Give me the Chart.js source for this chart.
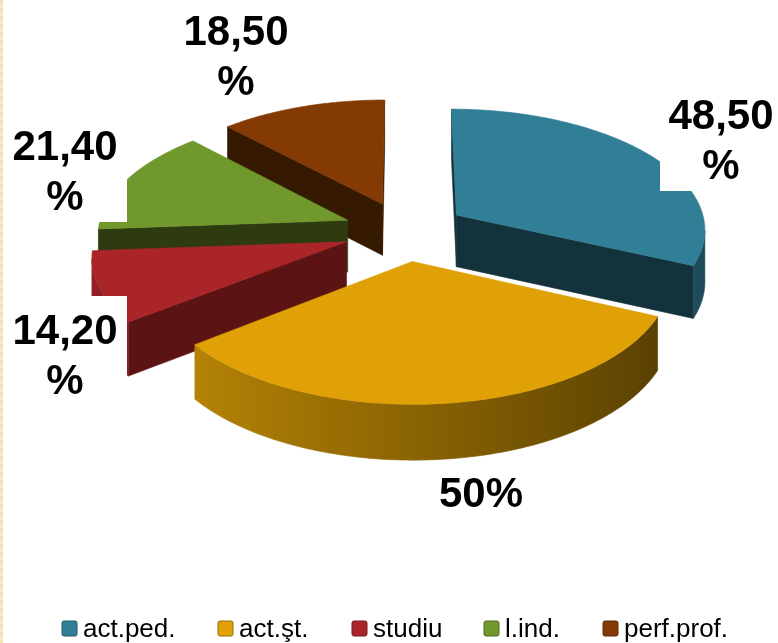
<!DOCTYPE html>
<html>
<head>
<meta charset="utf-8">
<script src="https://cdn.jsdelivr.net/npm/chart.js"></script>
<style>
    html, body { margin: 0; padding: 0; background: #fff; overflow: hidden; }
    #wrap { position: relative; width: 778px; height: 643px; }
    #edge { position: absolute; left: 0; top: 0; width: 3px; height: 643px; z-index: 2;
        background: repeating-linear-gradient(180deg, #f4e2b0 0, #f4e2b0 4px, #f8ebc8 4px, #f8ebc8 8px); }
</style>
</head>
<body>
<div id="wrap">
    <div id="edge"></div>
    <canvas id="myChart" width="778" height="643"></canvas>
</div>
<script>
var categories = ['act.ped.', 'act.\u015Ft.', 'studiu', 'l.ind.', 'perf.prof.'];
var values = [48.5, 50, 14.2, 21.4, 18.5];
var valueLabels = [['48,50', '%'], ['50%'], ['14,20', '%'], ['21,40', '%'], ['18,50', '%']];
var topColors = ['#317f96', '#dfa106', '#a92528', '#71982c', '#843a03'];
var sideColors = ['#14323b', '#5f4500', '#5c1314', '#2e3a10', '#351900'];

// back to front
var drawOrder = [4, 3, 0, 2, 1];
var tilt = 0.482;
var perspective = 0.107;
var depth = 52;
var rimLift = [0.2, 0, 0, 0, 0];

// x, y of each label (centre, first baseline) and the white box behind it
var labelPos = [[721, 129], [481, 507], [65, 344], [65, 160], [236, 45]];
var labelBox = [[660, 90, 778, 191], [430, 470, 532, 515], [4, 296, 127, 400], [4, 125, 127, 222], [180, 10, 292, 100]];
var legendX = [62, 218, 352, 484, 603];

function shade(hex, f) {
    var n = parseInt(hex.slice(1), 16);
    var r = Math.round((n >> 16) * f), g = Math.round(((n >> 8) & 255) * f), b = Math.round((n & 255) * f);
    return 'rgb(' + r + ',' + g + ',' + b + ')';
}

function poly(ctx, pts, color) {
    ctx.beginPath();
    pts.forEach(function (p, i) { i ? ctx.lineTo(p[0], p[1]) : ctx.moveTo(p[0], p[1]); });
    ctx.closePath();
    ctx.fillStyle = color;
    ctx.strokeStyle = color;
    ctx.lineWidth = 0.6;
    ctx.fill();
    ctx.stroke();
}

var pie3d = {
    id: 'pie3d',
    beforeDatasetsDraw: function (chart) {
        var ctx = chart.ctx;
        var arcs = chart.getDatasetMeta(0).data;

        drawOrder.forEach(function (i) {
            var el = arcs[i];
            var R = el.outerRadius;
            var a0 = el.startAngle + Math.PI / 2, a1 = el.endAngle + Math.PI / 2, mid = (a0 + a1) / 2;
            var off = el.options.offset / R;

            // flat pie position -> screen, nearer points get bigger
            function project(u, v) {
                u += off * Math.sin(mid);
                v -= off * Math.cos(mid);
                var s = 1 / (1 - perspective * v);
                return [el.x + R * u * s, el.y + R * tilt * v * s, s];
            }
            function down(p) { return [p[0], p[1] + depth * Math.sqrt(p[2])]; }

            var pts = [project(0, 0)], normals = [0];
            var steps = Math.ceil((a1 - a0) * 180 / Math.PI);
            for (var k = 0; k <= steps; k++) {
                var t = a0 + (a1 - a0) * k / steps;
                pts.push(project(Math.sin(t), -Math.cos(t)));
                normals.push(Math.sin(t));
            }

            // only walls whose top edge runs leftwards face the viewer
            var last = pts.length - 1;
            if (pts[1][0] < pts[0][0]) poly(ctx, [pts[0], pts[1], down(pts[1]), down(pts[0])], sideColors[i]);
            if (pts[0][0] < pts[last][0]) poly(ctx, [pts[last], pts[0], down(pts[0]), down(pts[last])], sideColors[i]);

            // rim as one piece, lighter on the left
            var rim = [], rimN = [];
            for (var j = 1; j < last; j++) {
                if (pts[j + 1][0] < pts[j][0]) {
                    if (!rim.length) { rim.push(pts[j]); rimN.push(normals[j]); }
                    rim.push(pts[j + 1]);
                    rimN.push(normals[j + 1]);
                }
            }
            if (rim.length) {
                var x0 = rim[rim.length - 1][0], x1 = rim[0][0];
                var grad = ctx.createLinearGradient(x0, 0, x1, 0);
                rim.forEach(function (p, n) {
                    grad.addColorStop((p[0] - x0) / (x1 - x0), shade(topColors[i], 0.62 - 0.24 * rimN[n] + rimLift[i]));
                });
                poly(ctx, rim.concat(rim.map(down).reverse()), grad);
            }

            poly(ctx, pts, topColors[i]);
        });

        // labels with their white boxes
        valueLabels.forEach(function (lines, i) {
            var b = labelBox[i];
            ctx.fillStyle = '#fff';
            ctx.fillRect(b[0], b[1], b[2] - b[0], b[3] - b[1]);
            ctx.fillStyle = '#000';
            ctx.font = 'bold 42px "Liberation Sans", Arial, sans-serif';
            ctx.textAlign = 'center';
            ctx.textBaseline = 'alphabetic';
            lines.forEach(function (line, n) {
                ctx.fillText(line, labelPos[i][0], labelPos[i][1] + n * 50);
            });
        });

        // legend
        ctx.font = '26px "Liberation Sans", Arial, sans-serif';
        ctx.textAlign = 'left';
        chart.data.labels.forEach(function (label, i) {
            ctx.beginPath();
            ctx.roundRect(legendX[i], 621, 15, 15, 2);
            ctx.fillStyle = topColors[i];
            ctx.fill();
            ctx.strokeStyle = shade(topColors[i], 0.7);
            ctx.lineWidth = 1;
            ctx.stroke();
            ctx.fillStyle = '#000';
            ctx.fillText(label, legendX[i] + 21, 637);
        });

        return false;
    }
};

var myChart = new Chart(document.getElementById('myChart'), {
    type: 'pie',
    data: {
        labels: categories,
        datasets: [{
            data: values,
            backgroundColor: topColors,
            borderWidth: 0,
            offset: 62
        }]
    },
    options: {
        responsive: false,
        animation: false,
        radius: 250,
        layout: { padding: { left: 32, right: 0, top: 0, bottom: 181 } },
        plugins: {
            legend: { display: false },
            tooltip: { enabled: false }
        }
    },
    plugins: [pie3d]
});
</script>
</body>
</html>
